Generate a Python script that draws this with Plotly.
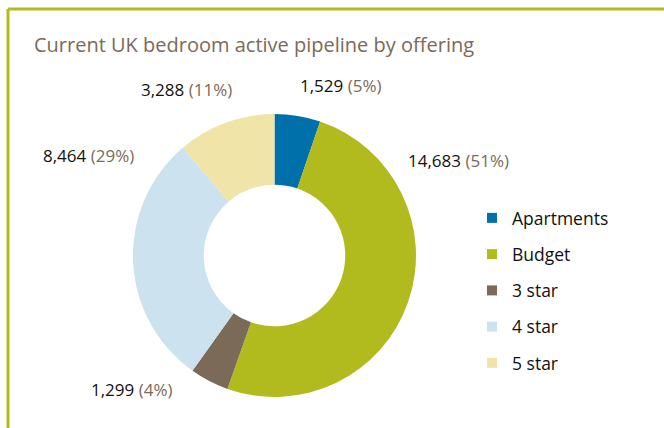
import plotly.graph_objects as go

# ---- data ----
categories = ["Apartments", "Budget", "3 star", "4 star", "5 star"]
bedrooms = [1529, 14683, 1299, 8464, 3288]
pct_labels = [5, 51, 4, 29, 11]  # as printed on the chart

# ---- styles ----
colors = ["#0070AA", "#B2BB1E", "#7B6A58", "#CCE2EF", "#F0E4A8"]
W, H = 664, 428
FONT = "Open Sans"
BROWN = "#7B6A58"
OLIVE = "#B2BB1E"

# label centres in pixels (layout only)
label_px = [(341, 85), (458, 160), (132, 389), (88, 155), (186, 90)]

# donut box in pixels
pie_left, pie_right, pie_top, pie_bottom = 133, 416, 114, 397

fig = go.Figure()
fig.add_trace(go.Pie(
    labels=categories, values=bedrooms, hole=0.5, sort=False,
    direction="clockwise", rotation=0,
    marker=dict(colors=colors, line=dict(width=0)),
    textinfo="none", hoverinfo="label+value+percent", showlegend=False,
    domain=dict(x=[pie_left / W, pie_right / W],
                y=[1 - pie_bottom / H, 1 - pie_top / H]),
))

# legend entries (one group each so spacing can be set)
for i, (c, col) in enumerate(zip(categories, colors)):
    fig.add_trace(go.Scatter(
        x=[None], y=[None], mode="markers", name=c, legendgroup=c,
        marker=dict(symbol="square", size=10, color=col),
    ))

annotations = []
for (cx, cy), v, p in zip(label_px, bedrooms, pct_labels):
    annotations.append(dict(
        x=cx / W, y=1 - cy / H, xref="paper", yref="paper",
        xanchor="center", yanchor="middle", showarrow=False,
        text=f"{v:,} <span style='color:{BROWN}'>({p}%)</span>",
        font=dict(family=FONT, size=17, color="#111111"),
    ))
annotations.append(dict(
    x=32 / W, y=1 - 44 / H, xref="paper", yref="paper",
    xanchor="left", yanchor="middle", showarrow=False,
    text="Current UK bedroom active pipeline by offering",
    font=dict(family=FONT, size=20, color=BROWN),
))

fig.update_layout(
    width=W, height=H, margin=dict(l=0, r=0, t=0, b=0),
    paper_bgcolor="white", plot_bgcolor="white",
    xaxis=dict(visible=False), yaxis=dict(visible=False),
    showlegend=True,
    legend=dict(x=472 / W, y=1 - 200 / H, xanchor="left", yanchor="top",
                font=dict(family=FONT, size=17.5, color="#111111"),
                tracegroupgap=10.5, itemwidth=30, bgcolor="rgba(0,0,0,0)"),
    annotations=annotations,
    shapes=[
        dict(type="line", xref="paper", yref="paper", x0=8 / W, x1=1,
             y0=1 - 9 / H, y1=1 - 9 / H, line=dict(color=OLIVE, width=3)),
        dict(type="line", xref="paper", yref="paper", x0=8 / W, x1=8 / W,
             y0=0, y1=1 - 9 / H, line=dict(color=OLIVE, width=3)),
    ],
)

fig.write_html("out.html", config={"displayModeBar": False},
               post_script="document.body.style.margin='0';")
